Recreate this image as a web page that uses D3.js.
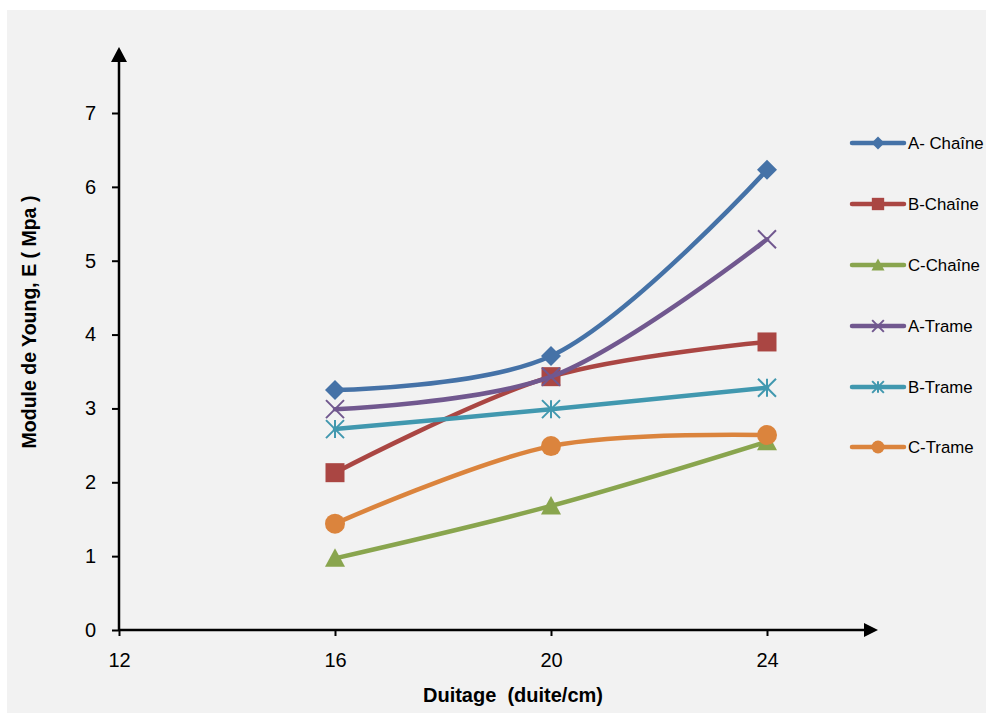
<!DOCTYPE html>
<html><head><meta charset="utf-8">
<script src="https://cdn.jsdelivr.net/npm/d3@7"></script>
<style>html,body{margin:0;padding:0;background:#fff;}svg{display:block;}</style>
</head><body>
<script>
const duitage = [16, 20, 24];
const seriesNames = ["A- Chaîne", "B-Chaîne", "C-Chaîne", "A-Trame", "B-Trame", "C-Trame"];
const aChaine = [3.25, 3.71, 6.23];
const bChaine = [2.13, 3.43, 3.90];
const cChaine = [0.97, 1.68, 2.55];
const aTrame = [2.99, 3.43, 5.29];
const bTrame = [2.72, 2.99, 3.28];
const cTrame = [1.44, 2.49, 2.64];
const xTicks = [12, 16, 20, 24];
const yTicks = [0, 1, 2, 3, 4, 5, 6, 7];
const colors = ["#4572a7", "#aa4643", "#89a54e", "#71588f", "#4198af", "#db843d"];
const markers = ["diamond", "square", "triangle", "x", "star", "circle"];
const values = [aChaine, bChaine, cChaine, aTrame, bTrame, cTrame];

const W = 986, H = 713;
const svg = d3.select("body").append("svg").attr("width", W).attr("height", H);
svg.append("rect").attr("x", 7).attr("y", 10).attr("width", W - 7).attr("height", H - 10).attr("fill", "#f2f2f2");

const x = d3.scaleLinear().domain([12, 24]).range([119, 767]);
const y = d3.scaleLinear().domain([0, 7]).range([630, 113]);
const font = "'Liberation Sans', Arial, sans-serif";

// axes
const ax = svg.append("g").attr("transform", `translate(0,${y(0)})`)
  .call(d3.axisBottom(x).tickValues(xTicks).tickSize(6).tickPadding(17).tickFormat(d3.format("d")));
const ay = svg.append("g").attr("transform", `translate(${x(12)},0)`)
  .call(d3.axisLeft(y).tickValues(yTicks).tickSize(7).tickPadding(16).tickFormat(d3.format("d")));
[ax, ay].forEach(g => {
  g.select(".domain").remove();
  g.selectAll(".tick line").attr("stroke", "#000").attr("stroke-width", 2);
  g.selectAll(".tick text").attr("font-family", font).attr("font-size", 20).attr("fill", "#000");
});
// axis lines with arrows
svg.append("line").attr("x1", x(12)).attr("x2", 864).attr("y1", y(0)).attr("y2", y(0)).attr("stroke", "#000").attr("stroke-width", 2.5);
svg.append("path").attr("d", `M864,${y(0)-7}L878,${y(0)}L864,${y(0)+7}Z`).attr("fill", "#000");
svg.append("line").attr("x1", x(12)).attr("x2", x(12)).attr("y1", y(0)).attr("y2", 62).attr("stroke", "#000").attr("stroke-width", 2.5);
svg.append("path").attr("d", `M${x(12)-8},62L${x(12)},47L${x(12)+8},62Z`).attr("fill", "#000");

// axis titles
svg.append("text").attr("x", 513).attr("y", 702).attr("text-anchor", "middle").style("white-space", "pre")
  .attr("font-family", font).attr("font-weight", "bold").attr("font-size", 20).text("Duitage  (duite/cm)");
svg.append("text").attr("transform", "translate(36,322) rotate(-90)").attr("text-anchor", "middle")
  .attr("font-family", font).attr("font-weight", "bold").attr("font-size", 19.5).text("Module de Young, E ( Mpa )");

function drawMarker(g, type, cx, cy, color, scale) {
  const s = scale || 1;
  if (type === "diamond") {
    const r = 10 * s;
    g.append("path").attr("d", `M${cx},${cy-r}L${cx+r},${cy}L${cx},${cy+r}L${cx-r},${cy}Z`).attr("fill", color);
  } else if (type === "square") {
    const r = 9.5 * s;
    g.append("rect").attr("x", cx - r).attr("y", cy - r).attr("width", 2 * r).attr("height", 2 * r).attr("fill", color);
  } else if (type === "triangle") {
    const r = 10 * s;
    g.append("path").attr("d", `M${cx},${cy-r}L${cx+r},${cy+r*0.85}L${cx-r},${cy+r*0.85}Z`).attr("fill", color);
  } else if (type === "circle") {
    g.append("circle").attr("cx", cx).attr("cy", cy).attr("r", 10 * s).attr("fill", color);
  } else if (type === "x") {
    const r = 9 * s;
    g.append("path").attr("d", `M${cx-r},${cy-r}L${cx+r},${cy+r}M${cx-r},${cy+r}L${cx+r},${cy-r}`)
      .attr("stroke", color).attr("stroke-width", 2);
  } else if (type === "star") {
    const r = 9 * s;
    g.append("path").attr("d", `M${cx-r},${cy-r}L${cx+r},${cy+r}M${cx-r},${cy+r}L${cx+r},${cy-r}M${cx},${cy-r}L${cx},${cy+r}`)
      .attr("stroke", color).attr("stroke-width", 2);
  }
}

const line = d3.line().x(d => x(d[0])).y(d => y(d[1])).curve(d3.curveCatmullRom.alpha(0.5));

values.forEach((vals, i) => {
  const pts = duitage.map((d, j) => [d, vals[j]]);
  const g = svg.append("g");
  g.append("path").attr("d", line(pts)).attr("fill", "none").attr("stroke", colors[i])
    .attr("stroke-width", 4.5).attr("stroke-linecap", "round");
  pts.forEach(p => drawMarker(g, markers[i], x(p[0]), y(p[1]), colors[i]));
});

// legend
const legY = [143, 204, 265, 326, 387, 447];
seriesNames.forEach((n, i) => {
  const g = svg.append("g");
  g.append("line").attr("x1", 852).attr("x2", 904).attr("y1", legY[i]).attr("y2", legY[i])
    .attr("stroke", colors[i]).attr("stroke-width", 4.5).attr("stroke-linecap", "round");
  drawMarker(g, markers[i], 878, legY[i], colors[i], 0.65);
  g.append("text").attr("x", 908).attr("y", legY[i] + 6).attr("font-family", font).attr("font-size", 16.8)
    .attr("fill", "#000").text(n);
});
</script>
</body></html>
